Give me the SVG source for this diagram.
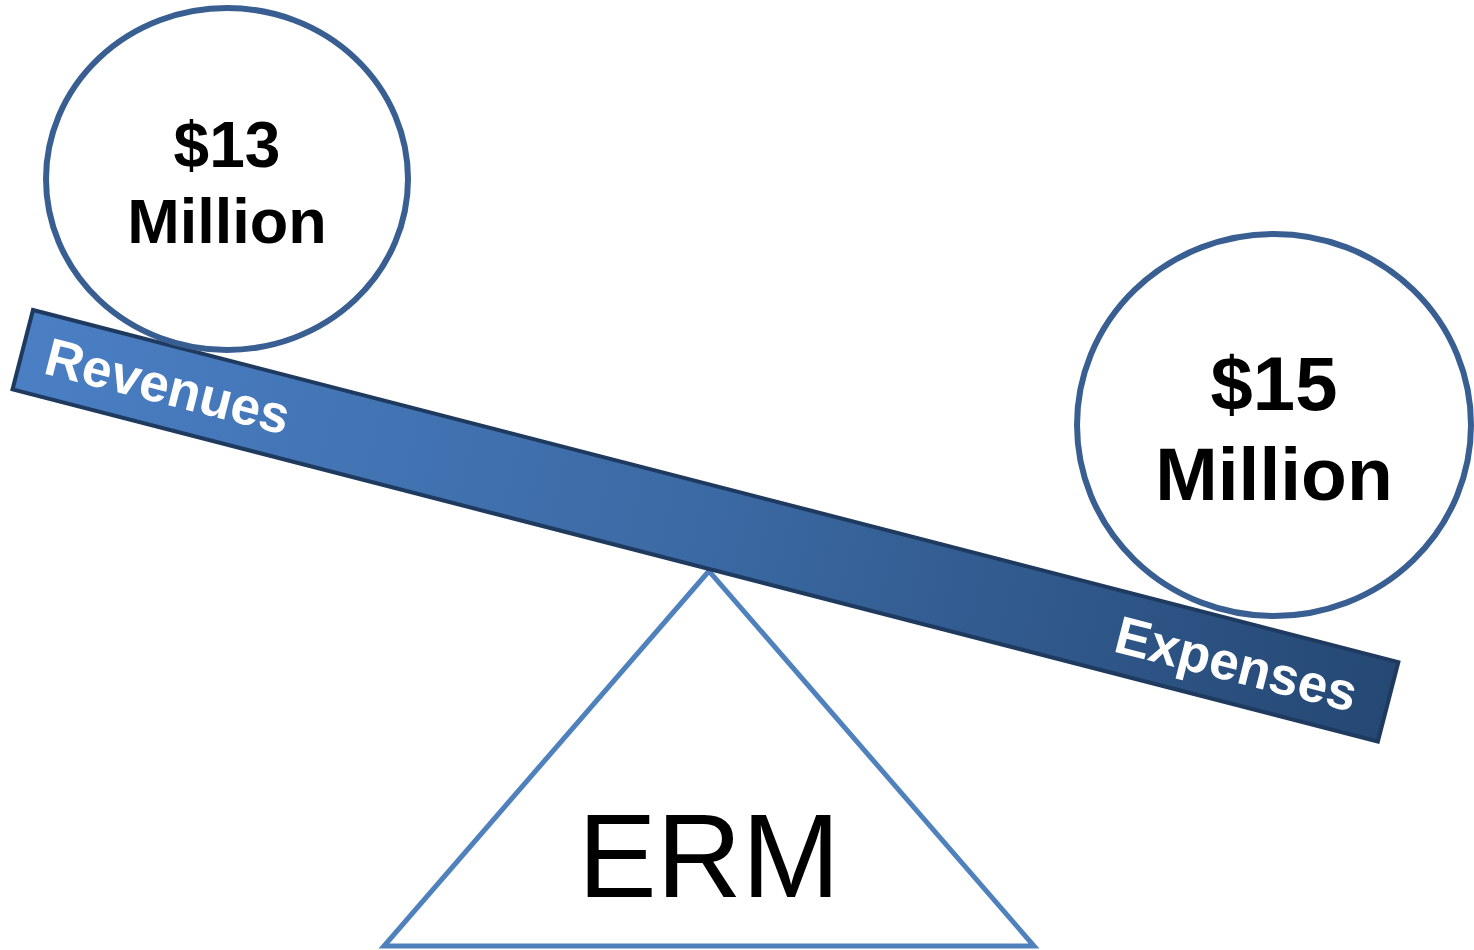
<svg xmlns="http://www.w3.org/2000/svg" width="1474" height="950" viewBox="0 0 1474 950">
<defs>
<linearGradient id="beamGrad" x1="0" y1="0" x2="1" y2="0">
<stop offset="0" stop-color="#4A7FC4"/>
<stop offset="0.5" stop-color="#3B69A3"/>
<stop offset="1" stop-color="#254874"/>
</linearGradient>
<style>
.circ{fill:#ffffff;stroke:#385E92;stroke-width:6}
.amt{font-family:"Liberation Sans",Arial,sans-serif;font-weight:bold;fill:#000;text-anchor:middle}
.lbl{font-family:"Liberation Sans",Arial,sans-serif;font-weight:bold;fill:#ffffff;font-size:53px}
</style>
</defs>
<rect width="1474" height="950" fill="#ffffff"/>
<g id="fulcrum">
<polygon points="709,571 384,946 1034,946" fill="#ffffff" stroke="#4F81BD" stroke-width="5"/>
<text x="709" y="897" font-family="Liberation Sans, Arial, sans-serif" font-size="118" text-anchor="middle" fill="#000">ERM</text>
</g>
<g id="beam">
<rect x="0" y="0" width="1410" height="82" transform="translate(33,310) rotate(14.46)" fill="url(#beamGrad)" stroke="#1F3A5F" stroke-width="4"/>
<text class="lbl" transform="translate(42,373) rotate(14.3)">Revenues</text>
<text class="lbl" transform="translate(1112,651) rotate(14.3)">Expenses</text>
</g>
<g id="revenue-weight">
<ellipse class="circ" cx="227" cy="179" rx="181" ry="171"/>
<text class="amt" x="227" y="167" font-size="64">$13</text>
<text class="amt" x="227" y="243" font-size="63">Million</text>
</g>
<g id="expense-weight">
<ellipse class="circ" cx="1274" cy="425" rx="197" ry="191"/>
<text class="amt" x="1274" y="410" font-size="76">$15</text>
<text class="amt" x="1274" y="500" font-size="75">Million</text>
</g>
</svg>
